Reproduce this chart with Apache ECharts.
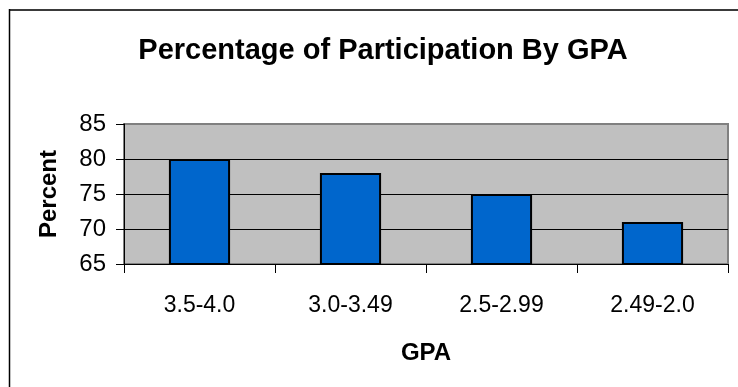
<!DOCTYPE html>
<html>
<head>
<meta charset="utf-8">
<script src="https://cdn.jsdelivr.net/npm/echarts@6/dist/echarts.min.js"></script>
<style>
  html, body { margin: 0; padding: 0; background: #ffffff; }
  #chart { width: 738px; height: 387px; }
</style>
</head>
<body>
<div id="chart"></div>
<script>
// GPA bands and the share of students participating in each
const gpaBands = ['3.5-4.0', '3.0-3.49', '2.5-2.99', '2.49-2.0'];
const participation = [80, 78, 75, 71];
const percentTicks = [65, 70, 75, 80, 85];

const FONT = '"Liberation Sans", Arial, Helvetica, sans-serif';

const chart = echarts.init(document.getElementById('chart'), null, { renderer: 'canvas' });

chart.setOption({
  animation: false,
  backgroundColor: '#ffffff',
  title: {
    text: 'Percentage of Participation By GPA',
    left: 378,
    top: 31,
    textAlign: 'center',
    textStyle: { fontFamily: FONT, fontWeight: 'bold', fontSize: 29, color: '#000' }
  },
  grid: {
    left: 124,
    top: 124,
    right: 10,
    bottom: 123,
    show: true,
    backgroundColor: '#c0c0c0',
    borderColor: '#808080',
    borderWidth: 2
  },
  xAxis: {
    type: 'category',
    data: gpaBands,
    name: 'GPA',
    nameLocation: 'middle',
    nameGap: 77,
    nameTextStyle: { fontFamily: FONT, fontWeight: 'bold', fontSize: 24, color: '#000' },
    axisLine: { lineStyle: { color: '#000', width: 1 } },
    axisTick: { show: true, length: 9, inside: false, alignWithLabel: false, lineStyle: { color: '#000' } },
    axisLabel: { fontFamily: FONT, fontSize: 23, color: '#000', margin: 30 },
    splitLine: { show: false }
  },
  yAxis: {
    type: 'value',
    min: percentTicks[0],
    max: percentTicks[percentTicks.length - 1],
    interval: 5,
    name: 'Percent',
    nameLocation: 'middle',
    nameRotate: 90,
    nameGap: 63,
    nameTextStyle: { fontFamily: FONT, fontWeight: 'bold', fontSize: 24, color: '#000' },
    axisLine: { show: true, lineStyle: { color: '#000', width: 1 } },
    axisTick: { show: true, length: 8, lineStyle: { color: '#000' } },
    axisLabel: { fontFamily: FONT, fontSize: 24, color: '#000', margin: 18 },
    splitLine: {
      show: true,
      lineStyle: { color: ['#000', '#000', '#000', '#000', '#808080'], width: 1 }
    }
  },
  series: [{
    type: 'bar',
    data: participation,
    barWidth: '40.5%',
    itemStyle: { color: '#0066cc', borderColor: '#000', borderWidth: 2 }
  }],
  graphic: [
    { type: 'line', shape: { x1: 9, y1: 10, x2: 738, y2: 10 }, style: { stroke: '#3a3a3a', lineWidth: 2 } },
    { type: 'line', shape: { x1: 9.5, y1: 9, x2: 9.5, y2: 387 }, style: { stroke: '#000', lineWidth: 1.5 } }
  ]
});
</script>
</body>
</html>
